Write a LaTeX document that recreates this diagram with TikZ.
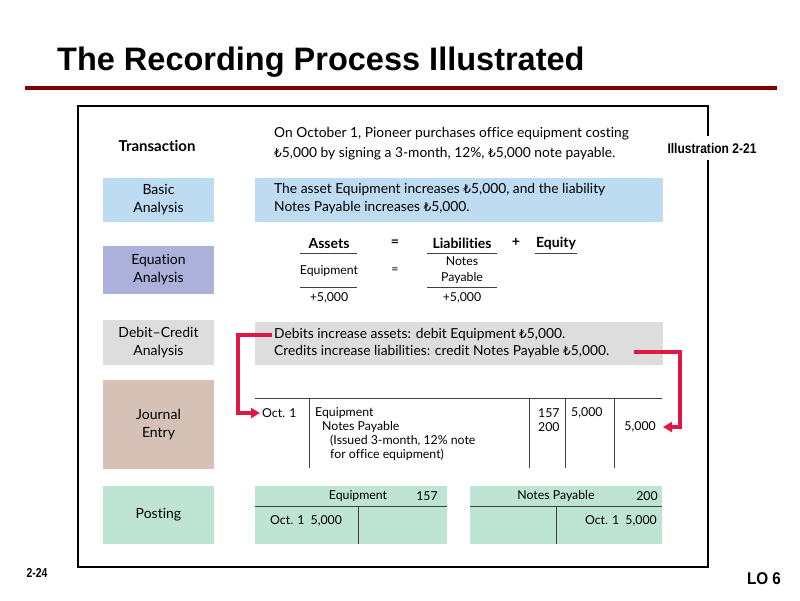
\documentclass[tikz,border=0pt]{standalone}
\usepackage{fontspec}
\setmainfont{Lato}[Ligatures={TeX,NoCommon}]
\newfontfamily\headfont{Liberation Sans}
\newfontfamily\symfont{DejaVu Sans}[Scale=0.88]
\usepackage{graphicx}
\usetikzlibrary{arrows.meta}
\definecolor{titlered}{RGB}{128,0,0}
\definecolor{flowred}{RGB}{222,24,68}
\definecolor{basicblue}{RGB}{189,220,241}
\definecolor{eqpurple}{RGB}{172,177,219}
\definecolor{dcgray}{RGB}{221,221,221}
\definecolor{jtaupe}{RGB}{213,193,181}
\definecolor{postgreen}{RGB}{190,228,211}
\newcommand{\lira}{{\symfont ₺}}
\newcommand{\narrowbold}[2]{\scalebox{#1}[1]{\headfont\bfseries #2}}

\begin{document}
\begin{tikzpicture}[
    x=1pt, y=-1pt,
    font=\fontsize{13.8}{18}\selectfont,
    stage/.style={minimum width=111pt, align=center, inner sep=0pt, font=\fontsize{14}{18}\selectfont},
    panel/.style={anchor=north west, minimum width=408pt, inner sep=0pt},
    txt/.style={anchor=west, inner sep=0pt, align=left},
    jtxt/.style={anchor=west, inner sep=0pt, font=\fontsize{12.3}{14}\selectfont},
    eqtxt/.style={inner sep=0pt, font=\fontsize{12.3}{15.5}\selectfont, align=center},
    eqhead/.style={inner sep=0pt, font=\bfseries\fontsize{14}{16}\selectfont},
    rule/.style={line width=1pt, draw=black!75},
    taccount/.style={fill=postgreen, minimum width=192pt, minimum height=58pt, inner sep=0pt},
    flow/.style={draw=flowred, line width=3.5pt, -{Triangle[length=9pt, width=10pt]}}
]
\useasboundingbox (0,0) rectangle (800,600);

% Title
\node[anchor=base west, inner sep=0pt, font=\headfont\bfseries\fontsize{32.5}{36}\selectfont] (title) at (57,70) {The Recording Process Illustrated};
\draw[titlered, line width=4pt] (25,87.5) -- (777,87.5);

% Frame and illustration label
\draw[line width=2pt] (78,106) rectangle (708,567);
\node[fill=white, inner xsep=2pt, inner ysep=7pt] (illus) at (712,148) {\narrowbold{0.86}{\fontsize{14}{16}\selectfont Illustration 2-21}};

% Stages
\node[font=\bfseries\fontsize{15}{17}\selectfont, inner sep=0pt] (trans) at (157,146) {Transaction};
\node[stage, fill=basicblue, minimum height=44pt] (basic) at (158.5,200) {Basic\\Analysis};
\node[stage, fill=eqpurple, minimum height=48pt] (equation) at (158.5,270) {Equation\\Analysis};
\node[stage, fill=dcgray, minimum height=45pt] (debitcredit) at (158.5,342.5) {Debit--Credit\\Analysis};
\node[stage, fill=jtaupe, minimum height=89pt] (journal) at (158.5,424.5) {Journal\\Entry};
\node[stage, fill=postgreen, minimum height=58pt] (posting) at (158.5,515) {Posting};

% Transaction
\node[txt, font=\fontsize{13.8}{20}\selectfont] (transtext) at (274,144) {On October 1, Pioneer purchases office equipment costing\\\lira5,000 by signing a 3-month, 12\%, \lira5,000 note payable.};

% Basic analysis
\node[panel, fill=basicblue, minimum height=44pt] (basicpanel) at (255,178) {};
\node[txt] (basictext) at (274,199) {The asset Equipment increases \lira5,000, and the liability\\Notes Payable increases \lira5,000.};

% Equation analysis
\node[eqhead] (assets) at (329,243) {Assets};
\node[eqhead] (eqa) at (395,243) {=};
\node[eqhead] (liab) at (462,243) {Liabilities};
\node[eqhead] (plus) at (516,242) {+};
\node[eqhead] (equity) at (556,243) {Equity};
\draw[rule] (300,253) -- (357,253);
\draw[rule] (427,253) -- (497,253);
\draw[rule] (535,253) -- (577,253);
\node[eqtxt] (equip) at (329,271) {Equipment};
\node[eqtxt] (eqb) at (395,271) {=};
\node[eqtxt] (notespay) at (462,270) {Notes\\Payable};
\draw[rule] (300,287) -- (357,287);
\draw[rule] (427,287) -- (497,287);
\node[eqtxt] (inca) at (329,298) {+5,000};
\node[eqtxt] (incl) at (462,298) {+5,000};

% Debit-credit analysis
\node[panel, fill=dcgray, minimum height=43pt] (dcpanel) at (255,322) {};
\node[txt] (debits) at (274,335) {Debits increase assets: debit Equipment \lira5,000.};
\node[txt] (credits) at (274,352) {Credits increase liabilities: credit Notes Payable \lira5,000.};

% Journal entry
\draw[rule] (255,398) -- (662,398);
\foreach \xcol in {309,529,565,614}
    \draw[rule] (\xcol,398) -- (\xcol,468);
\node[jtxt, inner xsep=2pt] (oct) at (260,413) {Oct. 1};
\node[jtxt] (jdebit) at (315,413) {Equipment};
\node[jtxt] (jcredit) at (322,427) {Notes Payable};
\node[jtxt] (jnote) at (330,441) {(Issued 3-month, 12\% note};
\node[jtxt] (jnoteb) at (330,455) {for office equipment)};
\node[jtxt] (refa) at (538,413) {157};
\node[jtxt] (refb) at (538,427) {200};
\node[jtxt] (dramt) at (571,413) {5,000};
\node[jtxt, anchor=east] (cramt) at (656,427) {5,000};

% Posting
\node[taccount] (eqacct) at (351,515) {};
\node[taccount] (npacct) at (566,515) {};
\draw[rule] (eqacct.west |- 0,506) -- (eqacct.east |- 0,506);
\draw[rule] (npacct.west |- 0,506) -- (npacct.east |- 0,506);
\draw[rule] (358,506) -- (358,544);
\draw[rule] (556,506) -- (556,544);
\node[jtxt, anchor=center] (eqname) at (358,496) {Equipment};
\node[jtxt, anchor=center] (eqno) at (427,496) {157};
\node[jtxt, anchor=center] (npname) at (556,496) {Notes Payable};
\node[jtxt, anchor=center] (npno) at (647,496) {200};
\node[jtxt] (eqentry) at (270,521) {Oct. 1\enspace 5,000};
\node[jtxt, anchor=east] (npentry) at (657,521) {Oct. 1\enspace 5,000};

% Arrows
\coordinate (lbend) at (238,413);
\coordinate (rbend) at (680,427);
\draw[flow] ([xshift=-2pt]debits.west) -| (lbend) -- (oct.west);
\draw[flow] ([xshift=24pt]credits.east) -| (rbend) -- ([xshift=7pt]cramt.east);

% Page labels
\node[inner sep=0pt] (pageno) at (37,573) {\narrowbold{0.8}{\fontsize{13}{15}\selectfont 2-24}};
\node[inner sep=0pt] (lo) at (764,579) {\narrowbold{0.9}{\fontsize{17}{19}\selectfont LO 6}};
\end{tikzpicture}
\end{document}
